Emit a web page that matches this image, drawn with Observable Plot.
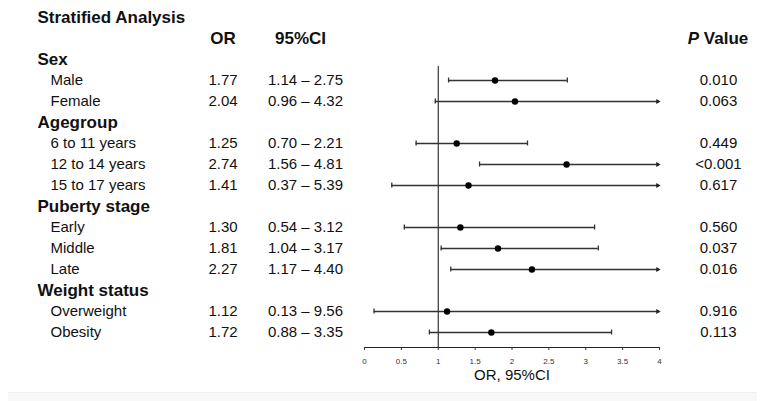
<!DOCTYPE html>
<html>
<head>
<meta charset="utf-8">
<script src="https://cdn.jsdelivr.net/npm/d3@7"></script>
<script src="https://cdn.jsdelivr.net/npm/@observablehq/plot@0.6"></script>
<style>
  body { margin: 0; background: #fff; }
  #band { height: 9px; margin: 0 8px; background: #f8f8f8; border-top: 1px solid #eeeeee; box-sizing: border-box; }
</style>
</head>
<body>
<div id="chart"></div>
<div id="band"></div>
<script>
// Stratified analysis: odds ratios with 95% confidence intervals
const groups = ["Sex", "Agegroup", "Puberty stage", "Weight status"];
const subgroups = ["Male", "Female", "6 to 11 years", "12 to 14 years", "15 to 17 years",
                   "Early", "Middle", "Late", "Overweight", "Obesity"];
const groupOf = ["Sex", "Sex", "Agegroup", "Agegroup", "Agegroup",
                 "Puberty stage", "Puberty stage", "Puberty stage", "Weight status", "Weight status"];
const oddsRatio = [1.77, 2.04, 1.25, 2.74, 1.41, 1.30, 1.81, 2.27, 1.12, 1.72];
const ciLower   = [1.14, 0.96, 0.70, 1.56, 0.37, 0.54, 1.04, 1.17, 0.13, 0.88];
const ciUpper   = [2.75, 4.32, 2.21, 4.81, 5.39, 3.12, 3.17, 4.40, 9.56, 3.35];
const pValues   = ["0.010", "0.063", "0.449", "<0.001", "0.617", "0.560", "0.037", "0.016", "0.916", "0.113"];
const xTicks = [0, 0.5, 1, 1.5, 2, 2.5, 3, 3.5, 4];
const xDomain = [0, 4];

const title = "Stratified Analysis";
const colHeaders = {or: "OR", ci: "95%CI", p: "P", value: "Value"};
const axisTitle = "OR, 95%CI";

// Row order: title, column header, then each group followed by its subgroups
const rowOrder = ["title", "header"];
groups.forEach(g => {
  rowOrder.push(g);
  subgroups.forEach((s, i) => { if (groupOf[i] === g) rowOrder.push(s); });
});

const rows = subgroups.map((s, i) => ({
  key: s,
  or: oddsRatio[i],
  lo: ciLower[i],
  hi: ciUpper[i],
  p: pValues[i],
  orText: oddsRatio[i].toFixed(2),
  ciText: `${ciLower[i].toFixed(2)} – ${ciUpper[i].toFixed(2)}`
}));
const xMax = xDomain[1];
const overflow = rows.filter(d => d.hi > xMax);
const inside = rows.filter(d => d.hi <= xMax);

const ink = "#111";
const lineInk = "#333";
const font = "'Liberation Sans', Arial, sans-serif";
const cell = {lineAnchor: "middle", fill: ink};

const chart = Plot.plot({
  width: 765,
  height: 392,
  marginLeft: 364,
  marginRight: 106,
  marginTop: 66,
  marginBottom: 45,
  style: {fontFamily: font, fontSize: "15px", color: ink, background: "#fff"},
  x: {domain: xDomain},
  y: {type: "point", domain: rowOrder, range: [12.6, 336.3], padding: 0, axis: null},
  marks: [
    // x axis with baseline
    Plot.frame({anchor: "bottom", stroke: "#222"}),
    Plot.axisX({ticks: xTicks, tickSize: 3, tickPadding: 8, fontSize: 8, color: "#333", label: null, tickFormat: d => String(d)}),
    Plot.text([axisTitle], {frameAnchor: "bottom", dy: 27.5, textAnchor: "middle", fontSize: 15, ...cell}),

    // null line at OR = 1
    Plot.ruleX([1], {stroke: "#222", strokeWidth: 1.1}),

    // confidence intervals
    Plot.ruleY(rows, {y: "key", x1: "lo", x2: d => Math.min(d.hi, xMax), stroke: lineInk, strokeWidth: 1.3}),
    Plot.ruleX(rows, {x: "lo", y1: "key", y2: "key", insetTop: -2.5, insetBottom: -2.5, stroke: lineInk, strokeWidth: 1.3}),
    Plot.ruleX(inside, {x: "hi", y1: "key", y2: "key", insetTop: -2.5, insetBottom: -2.5, stroke: lineInk, strokeWidth: 1.3}),
    Plot.dot(overflow, {x: () => xMax, y: "key", symbol: "triangle2", rotate: 90, r: 2.4, dx: -1.8, fill: "#222", stroke: "none"}),
    Plot.dot(rows, {x: "or", y: "key", r: 3.2, fill: "#000"}),

    // title and column headers
    Plot.text([title], {y: () => "title", frameAnchor: "left", dx: -327, textAnchor: "start", fontWeight: "bold", fontSize: 17, ...cell}),
    Plot.text([colHeaders.or], {y: () => "header", frameAnchor: "left", dx: -141.5, textAnchor: "middle", fontWeight: "bold", fontSize: 17, ...cell}),
    Plot.text([colHeaders.ci], {y: () => "header", frameAnchor: "left", dx: -64, textAnchor: "middle", fontWeight: "bold", fontSize: 17, ...cell}),
    Plot.text([colHeaders.p], {y: () => "header", frameAnchor: "right", dx: 28.3, textAnchor: "start", fontWeight: "bold", fontStyle: "italic", fontSize: 17, ...cell}),
    Plot.text([colHeaders.value], {y: () => "header", frameAnchor: "right", dx: 44.3, textAnchor: "start", fontWeight: "bold", fontSize: 17, ...cell}),

    // group labels
    Plot.text(groups, {y: d => d, text: d => d, frameAnchor: "left", dx: -327, textAnchor: "start", fontWeight: "bold", fontSize: 17, ...cell}),

    // subgroup rows: label, OR, CI, P value
    Plot.text(rows, {y: "key", text: "key", frameAnchor: "left", dx: -314, textAnchor: "start", fontSize: 15, ...cell}),
    Plot.text(rows, {y: "key", text: "orText", frameAnchor: "left", dx: -141.5, textAnchor: "middle", fontSize: 15, ...cell}),
    Plot.text(rows, {y: "key", text: "ciText", frameAnchor: "left", dx: -59, textAnchor: "middle", fontSize: 15, ...cell}),
    Plot.text(rows, {y: "key", text: "p", frameAnchor: "right", dx: 59, textAnchor: "middle", fontSize: 15, ...cell})
  ]
});

document.getElementById("chart").appendChild(chart);
</script>
</body>
</html>
